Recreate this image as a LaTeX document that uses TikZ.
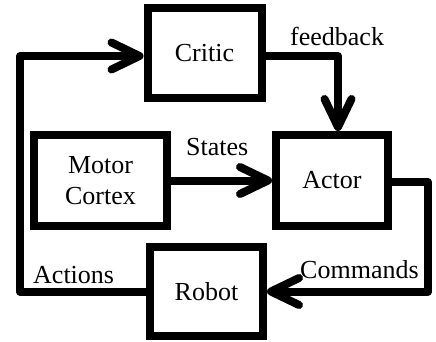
\documentclass[tikz,border=0pt]{standalone}
\usepackage{fontspec}
\setmainfont{Liberation Serif}
\newfontfamily\labelfont{Liberation Serif}
\usetikzlibrary{arrows.meta}
\begin{document}
\begin{tikzpicture}[x=1pt,y=1pt,
  font=\labelfont\fontsize{26}{31}\selectfont,
  block/.style={draw, line width=8pt, rectangle, inner sep=0pt, align=center},
  link/.style={line width=8pt, line join=round,
    -{Straight Barb[length=28pt, width=27pt, round]}},
  lbl/.style={inner sep=0pt, anchor=base west}]
\useasboundingbox (0,0) rectangle (436,341);
% blocks
\node[block, minimum width=114pt, minimum height=90pt] (critic) at (204.5,288) {Critic};
\node[block, minimum width=133pt, minimum height=91pt] (motor) at (100.5,160.5) {Motor\\Cortex};
\node[block, minimum width=112pt, minimum height=91pt] (actor) at (332,160.5) {Actor};
\node[block, minimum width=113pt, minimum height=89pt] (robot) at (206.5,49.5) {Robot};
% ports and routing points
\coordinate (critin) at ([yshift=-3pt]critic.west);
\coordinate (critout) at ([yshift=-3pt]critic.east);
\coordinate (actout) at ([yshift=-1.5pt]actor.east);
\coordinate (loopx) at (20,0);
\coordinate (fbx) at (338,0);
\coordinate (cmdx) at (428,0);
% connectors
\draw[link] (robot.west) -| (loopx |- critin) -- (critin);
\draw[link] (critout) -| (fbx |- actor.north);
\draw[link] (motor.east) -- (actor.west);
\draw[link] (actout) -| (cmdx |- robot.east) -- (robot.east);
% labels
\node[lbl] (lfb) at (290,295) {feedback};
\node[lbl] (lst) at (186,186) {States};
\node[lbl] (lcm) at (300,63) {Commands};
\node[lbl] (lac) at (33,58) {Actions};
\end{tikzpicture}
\end{document}
